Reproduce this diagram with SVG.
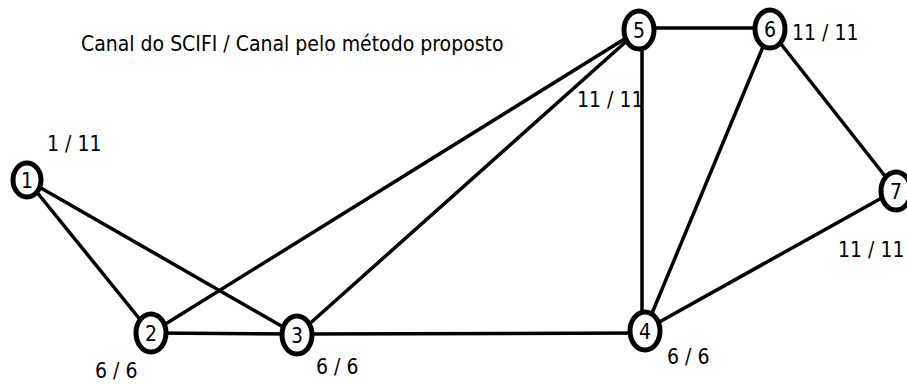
<svg xmlns="http://www.w3.org/2000/svg" width="907" height="385" viewBox="0 0 907 385">
<style>
.node{fill:#fff;stroke:#000;stroke-width:5}
.edge{stroke:#000;stroke-width:3.5;fill:none}
.num{font-family:"DejaVu Sans",sans-serif;font-size:21px;fill:#000;text-anchor:middle}
.lbl{font-family:"DejaVu Sans",sans-serif;font-size:21px;fill:#000}
</style>
<rect width="907" height="385" fill="#fff"/>
<text class="lbl" transform="translate(81,51) scale(0.9,1)">Canal do SCIFI / Canal pelo método proposto</text>
<g id="edges">
<line class="edge" x1="27" y1="180" x2="151" y2="333"/>
<line class="edge" x1="27" y1="180" x2="297" y2="335"/>
<line class="edge" x1="151" y1="333" x2="297" y2="334"/>
<line class="edge" x1="151" y1="333" x2="639" y2="30"/>
<line class="edge" x1="297" y1="335" x2="639" y2="30"/>
<line class="edge" x1="297" y1="334" x2="645" y2="333"/>
<line class="edge" x1="642" y1="30" x2="642" y2="330"/>
<line class="edge" x1="639" y1="28" x2="770" y2="28"/>
<line class="edge" x1="770" y1="30" x2="645" y2="330"/>
<line class="edge" x1="770" y1="30" x2="896" y2="190"/>
<line class="edge" x1="645" y1="330" x2="896" y2="190"/>
</g>
<g id="n1"><ellipse class="node" cx="27" cy="180" rx="14" ry="17"/><text class="num" transform="translate(27,188) scale(0.9,1)">1</text></g>
<g id="n2"><ellipse class="node" cx="151" cy="333" rx="15" ry="19"/><text class="num" transform="translate(151,341) scale(0.9,1)">2</text></g>
<g id="n3"><ellipse class="node" cx="297" cy="335" rx="15" ry="19"/><text class="num" transform="translate(297,343) scale(0.9,1)">3</text></g>
<g id="n4"><ellipse class="node" cx="645" cy="331" rx="15" ry="19"/><text class="num" transform="translate(645,339) scale(0.9,1)">4</text></g>
<g id="n5"><ellipse class="node" cx="639" cy="30" rx="15" ry="19"/><text class="num" transform="translate(639,38) scale(0.9,1)">5</text></g>
<g id="n6"><ellipse class="node" cx="770" cy="29" rx="15" ry="19"/><text class="num" transform="translate(770,37) scale(0.9,1)">6</text></g>
<g id="n7"><ellipse class="node" cx="896" cy="191" rx="15" ry="19"/><text class="num" transform="translate(896,199) scale(0.9,1)">7</text></g>
<g id="labels">
<text class="lbl" transform="translate(47,151) scale(0.9,1)">1 / 11</text>
<text class="lbl" transform="translate(95,378) scale(0.9,1)">6 / 6</text>
<text class="lbl" transform="translate(316,374) scale(0.9,1)">6 / 6</text>
<text class="lbl" transform="translate(667,364) scale(0.9,1)">6 / 6</text>
<text class="lbl" transform="translate(577,107) scale(0.9,1)">11 / 11</text>
<text class="lbl" transform="translate(792,40) scale(0.9,1)">11 / 11</text>
<text class="lbl" transform="translate(838,257) scale(0.9,1)">11 / 11</text>
</g>
</svg>
